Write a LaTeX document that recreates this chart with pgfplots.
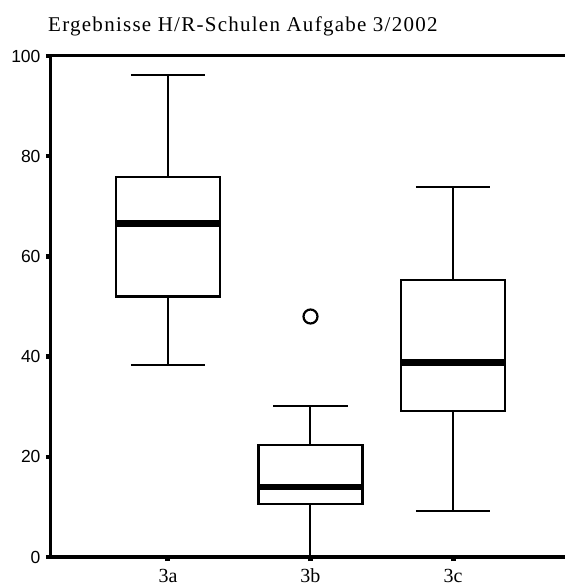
\documentclass[border=0pt]{standalone}
\usepackage{fontspec}
\setmainfont{Liberation Serif}
\newfontfamily\arialfont{Liberation Sans}
\newfontfamily\titlefont[LetterSpace=6]{Liberation Serif}
\usepackage{pgfplots}
\pgfplotsset{compat=1.18}
\usepgfplotslibrary{statistics}
\begin{document}
\begin{tikzpicture}
\useasboundingbox (0pt,0pt) rectangle (565pt,588pt);
\begin{axis}[
  at={(50pt,31pt)}, anchor=south west,
  scale only axis, width=515pt, height=501pt,
  xmin=0.172, xmax=3.786, ymin=0, ymax=100,
  axis line style={draw=none},
  clip=false,
  xtick={1,2,3}, xticklabels={3a,3b,3c},
  ytick={0,20,40,60,80,100},
  xtick pos=lower, ytick pos=left,
  tick align=outside,
  major tick length=4pt,
  xtick style={line width=5pt, black},
  ytick style={line width=4.5pt, black},
  xticklabel style={font=\fontsize{20}{20}\selectfont, anchor=base, yshift=-21pt},
  yticklabel style={font=\arialfont\fontsize{17.5}{17.5}\selectfont, xshift=-2pt},
  /pgf/number format/assume math mode=true,
  boxplot/draw direction=y,
  boxplot/every box/.style={line width=2.2pt, draw=black},
  boxplot/every whisker/.style={line width=2pt, black},
  boxplot/every median/.style={line width=6.5pt, black},
]
\addplot+[black, line width=2pt, mark=o, mark size=7pt, mark options={line width=2.2pt, black},
  boxplot prepared={draw position=1, lower whisker=38.4, lower quartile=52,
  median=66.6, upper quartile=75.8, upper whisker=96.2,
  box extend=0.73, whisker extend=0.52, draw direction=y}] coordinates {};
\addplot+[black, line width=2pt, mark=o, mark size=7pt, mark options={line width=2.2pt, black},
  boxplot prepared={draw position=2, lower whisker=0, lower quartile=10.6,
  median=14, upper quartile=22.3, upper whisker=30.1,
  box extend=0.73, whisker extend=0.52, draw direction=y}] coordinates {(2,48)};
\addplot+[black, line width=2pt, mark=o, mark size=7pt, mark options={line width=2.2pt, black},
  boxplot prepared={draw position=3, lower whisker=9.1, lower quartile=29.1,
  median=38.8, upper quartile=55.3, upper whisker=73.8,
  box extend=0.73, whisker extend=0.52, draw direction=y}] coordinates {};
\draw[line width=3pt, black] (rel axis cs:0,0) -- (rel axis cs:0,1) -- (rel axis cs:1,1);
\draw[line width=3pt, black] (rel axis cs:0,0) -- (rel axis cs:1,0);
\end{axis}
\node[anchor=base west, inner sep=0pt, font=\titlefont\fontsize{21}{21}\selectfont] at (48pt,556pt) {Ergebnisse H/R-Schulen Aufgabe 3/2002};
\end{tikzpicture}
\end{document}
